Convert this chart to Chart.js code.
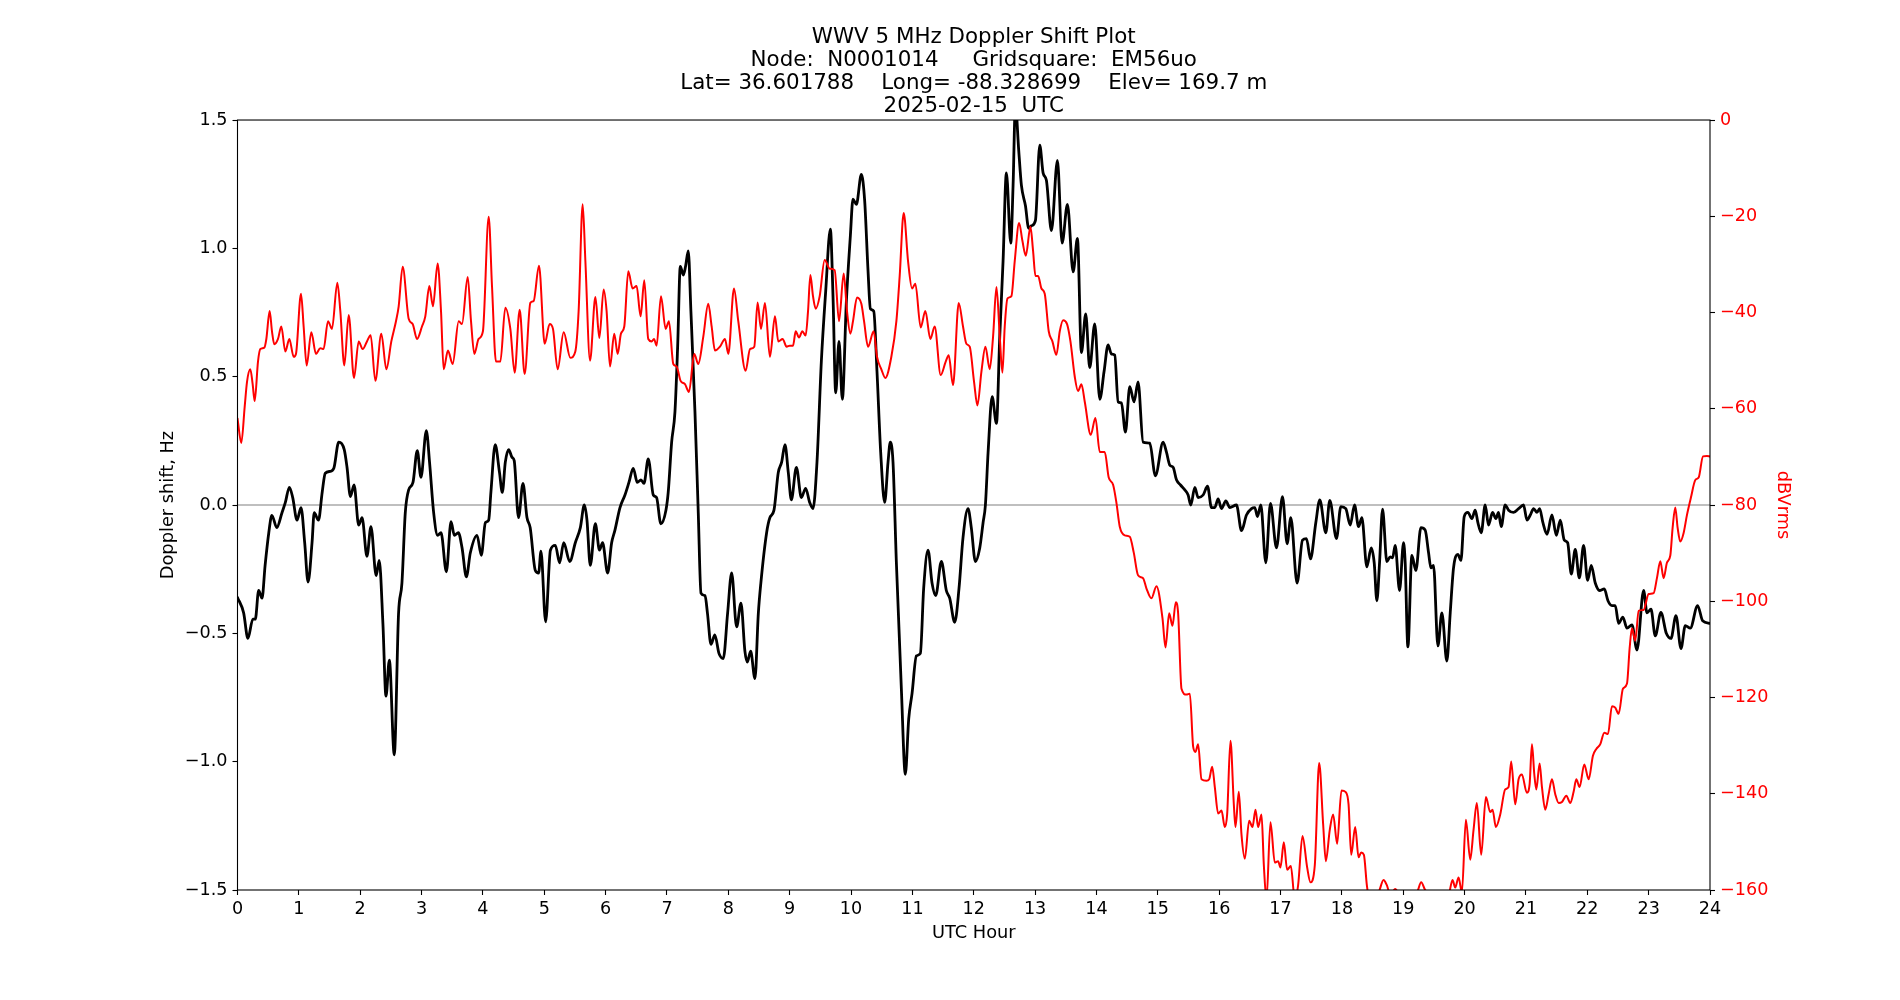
<!DOCTYPE html>
<html>
<head>
<meta charset="utf-8">
<title>WWV 5 MHz Doppler Shift Plot</title>
<script src="https://cdn.jsdelivr.net/npm/chart.js@4.4.1/dist/chart.umd.min.js"></script>
<style>
  html, body { margin: 0; padding: 0; background: #fff; }
  #chart { display: block; }
</style>
</head>
<body>
<canvas id="chart" width="1900" height="1000"></canvas>
<script>
var titleLines = [
  'WWV 5 MHz Doppler Shift Plot',
  'Node:  N0001014     Gridsquare:  EM56uo',
  'Lat= 36.601788    Long= -88.328699    Elev= 169.7 m',
  '2025-02-15  UTC'
];

var hourTicks = [0, 1, 2, 3, 4, 5, 6, 7, 8, 9, 10, 11, 12, 13, 14, 15, 16, 17, 18, 19, 20, 21, 22, 23, 24];
var dopplerTicks = [-1.5, -1.0, -0.5, 0.0, 0.5, 1.0, 1.5];
var powerTicks = [-160, -140, -120, -100, -80, -60, -40, -20, 0];

// zero reference line
var zeroHours = [0, 24];
var zeroHz = [0, 0];

// Doppler shift (Hz), black trace
var dopplerHours = [
  0.00, 0.10, 0.17, 0.25, 0.29, 0.345, 0.40, 0.45, 0.51, 0.56, 0.64, 0.725, 0.78, 0.845, 0.90, 0.97,
  1.035, 1.095, 1.15, 1.215, 1.25, 1.32, 1.38, 1.43, 1.51, 1.57, 1.65, 1.74, 1.785, 1.84, 1.90, 1.975,
  2.03, 2.11, 2.175, 2.26, 2.31, 2.37, 2.42, 2.475, 2.555, 2.625, 2.68, 2.735, 2.79, 2.86, 2.93, 2.99,
  3.078, 3.13, 3.197, 3.262, 3.317, 3.404, 3.48, 3.534, 3.60, 3.66, 3.73, 3.795, 3.904, 3.974,
  4.04, 4.094, 4.13, 4.20, 4.27, 4.316, 4.365, 4.42, 4.474, 4.51, 4.58, 4.653, 4.718, 4.77, 4.854, 4.908, 4.946,
  5.022, 5.10, 5.18, 5.25, 5.317, 5.415, 5.506, 5.588, 5.653, 5.696, 5.75, 5.832, 5.90, 5.95,
  6.033, 6.098, 6.152, 6.234, 6.315, 6.38, 6.45, 6.516, 6.576, 6.625, 6.695, 6.777, 6.83, 6.90, 6.983,
  7.02, 7.076, 7.13, 7.174, 7.217, 7.266, 7.304, 7.347, 7.39, 7.456, 7.51, 7.554, 7.62, 7.66, 7.717, 7.78, 7.847, 7.918, 7.988,
  8.054, 8.135, 8.206, 8.27, 8.31, 8.363, 8.434, 8.489, 8.53, 8.624, 8.678, 8.744, 8.814, 8.869, 8.923, 8.977,
  9.027, 9.109, 9.19, 9.26, 9.326, 9.38, 9.445, 9.516, 9.587, 9.663, 9.706, 9.75, 9.804, 9.858, 9.924, 9.989,
  10.032, 10.087, 10.168, 10.222, 10.277, 10.315, 10.37, 10.423, 10.483, 10.548, 10.603, 10.64, 10.684, 10.739, 10.82, 10.885, 10.94, 10.994,
  11.065, 11.13, 11.184, 11.255, 11.32, 11.38, 11.472, 11.553, 11.608, 11.69, 11.76, 11.825, 11.907, 11.96,
  12.027, 12.098, 12.152, 12.19, 12.234, 12.30, 12.37, 12.424, 12.478, 12.532, 12.603, 12.641, 12.679, 12.733, 12.777, 12.842, 12.896, 12.94,
  13.005, 13.076, 13.13, 13.184, 13.266, 13.364, 13.44, 13.527, 13.62, 13.69, 13.755, 13.825, 13.89, 13.972,
  14.054, 14.124, 14.19, 14.244, 14.298, 14.353, 14.407, 14.472, 14.543, 14.613, 14.678, 14.76, 14.869, 14.96,
  15.087, 15.141, 15.196, 15.25, 15.304, 15.37, 15.44, 15.494, 15.538, 15.603, 15.657, 15.739, 15.81, 15.875, 15.929, 15.983,
  16.038, 16.108, 16.174, 16.282, 16.364, 16.445, 16.527, 16.581, 16.624, 16.679, 16.76, 16.836, 16.934,
  17.032, 17.108, 17.168, 17.27, 17.358, 17.423, 17.488, 17.575, 17.64, 17.738, 17.803, 17.912, 17.983,
  18.064, 18.136, 18.206, 18.272, 18.326, 18.407, 18.478, 18.527, 18.57, 18.614, 18.663, 18.733, 18.788, 18.826, 18.869, 18.94,
  19.005, 19.032, 19.076, 19.141, 19.206, 19.288, 19.358, 19.413, 19.451, 19.494, 19.565, 19.63, 19.711, 19.766, 19.82, 19.891, 19.94, 19.994,
  20.054, 20.119, 20.173, 20.217, 20.271, 20.336, 20.39, 20.456, 20.51, 20.553, 20.597, 20.662, 20.717, 20.798, 20.88, 20.961,
  21.017, 21.071, 21.125, 21.18, 21.223, 21.277, 21.343, 21.424, 21.495, 21.56, 21.625, 21.68, 21.739, 21.804, 21.87, 21.94,
  22.005, 22.065, 22.13, 22.20, 22.277, 22.337, 22.402, 22.456, 22.51, 22.58, 22.647, 22.728, 22.81, 22.918, 22.973,
  23.038, 23.108, 23.20, 23.288, 23.364, 23.445, 23.527, 23.597, 23.679, 23.798, 23.88, 24.00
];
var dopplerHz = [
  -0.36, -0.42, -0.52, -0.445, -0.445, -0.333, -0.363, -0.235, -0.108, -0.04, -0.088, -0.03, 0.01, 0.069, 0.029, -0.059,
  -0.01, -0.147, -0.30, -0.147, -0.03, -0.059, 0.049, 0.124, 0.131, 0.143, 0.245, 0.216, 0.147, 0.033, 0.078, -0.078,
  -0.049, -0.20, -0.084, -0.275, -0.216, -0.461, -0.745, -0.604, -0.973, -0.422, -0.304, -0.029, 0.059, 0.088, 0.212, 0.108,
  0.29, 0.167, -0.03, -0.118, -0.108, -0.26, -0.065, -0.118, -0.108, -0.167, -0.28, -0.186, -0.118, -0.196,
  -0.069, -0.059, 0.049, 0.235, 0.127, 0.049, 0.167, 0.216, 0.186, 0.173, -0.049, 0.084, -0.049, -0.088, -0.255, -0.265, -0.18,
  -0.455, -0.176, -0.157, -0.225, -0.147, -0.22, -0.147, -0.088, 0.0, -0.059, -0.235, -0.073, -0.176, -0.147,
  -0.265, -0.147, -0.098, -0.01, 0.039, 0.088, 0.143, 0.088, 0.098, 0.084, 0.18, 0.039, 0.029, -0.073, -0.02,
  0.049, 0.245, 0.363, 0.618, 0.93, 0.896, 0.931, 0.99, 0.755, 0.363, -0.03, -0.343, -0.353, -0.422, -0.543, -0.506, -0.578, -0.598, -0.422,
  -0.265, -0.475, -0.382, -0.569, -0.612, -0.569, -0.676, -0.422, -0.304, -0.108, -0.049, -0.02, 0.127, 0.167, 0.235, 0.127,
  0.02, 0.147, 0.029, 0.065, 0.01, -0.014, 0.167, 0.559, 0.833, 1.075, 0.814, 0.437, 0.637, 0.412, 0.794, 1.049,
  1.192, 1.171, 1.288, 1.186, 0.912, 0.765, 0.755, 0.52, 0.206, 0.01, 0.167, 0.245, 0.167, -0.225, -0.716, -1.049, -0.833, -0.735,
  -0.588, -0.578, -0.324, -0.176, -0.304, -0.353, -0.22, -0.333, -0.363, -0.457, -0.324, -0.127, -0.014, -0.088,
  -0.22, -0.167, -0.069, 0.0, 0.206, 0.422, 0.318, 0.657, 0.951, 1.294, 1.02, 1.245, 1.56, 1.382, 1.245, 1.167, 1.078, 1.088,
  1.108, 1.402, 1.294, 1.265, 1.069, 1.343, 1.02, 1.171, 0.908, 1.039, 0.594, 0.745, 0.535, 0.706,
  0.412, 0.52, 0.624, 0.588, 0.584, 0.402, 0.398, 0.284, 0.461, 0.402, 0.48, 0.245, 0.241, 0.114,
  0.245, 0.206, 0.155, 0.147, 0.098, 0.078, 0.059, 0.039, 0.0, 0.069, 0.029, 0.039, 0.073, -0.01, -0.01, 0.024,
  -0.014, 0.016, -0.01, 0.0, -0.10, -0.039, -0.014, -0.01, -0.045, 0.0, -0.225, 0.006, -0.167,
  0.033, -0.151, -0.049, -0.304, -0.137, -0.131, -0.21, -0.069, 0.02, -0.108, 0.018, -0.131, -0.006,
  -0.014, -0.078, 0.0, -0.084, -0.049, -0.241, -0.167, -0.225, -0.373, -0.225, -0.016, -0.22, -0.202, -0.206, -0.157, -0.333,
  -0.147, -0.225, -0.553, -0.196, -0.255, -0.088, -0.098, -0.186, -0.245, -0.235, -0.549, -0.42, -0.608, -0.42, -0.245, -0.192, -0.216, -0.045,
  -0.029, -0.053, -0.02, -0.069, -0.108, 0.0, -0.078, -0.029, -0.053, -0.029, -0.084, 0.0, -0.02, -0.029, -0.014, 0.0,
  -0.059, -0.039, -0.014, -0.029, -0.014, -0.069, -0.114, -0.039, -0.118, -0.059, -0.137, -0.147, -0.269, -0.173, -0.284, -0.157,
  -0.294, -0.235, -0.304, -0.333, -0.327, -0.373, -0.392, -0.392, -0.461, -0.437, -0.48, -0.467, -0.565, -0.333, -0.42,
  -0.406, -0.51, -0.418, -0.50, -0.52, -0.431, -0.559, -0.47, -0.48, -0.392, -0.451, -0.461
];

// signal level (dBVrms), red trace
var powerHours = [
  0.00, 0.062, 0.117, 0.155, 0.209, 0.247, 0.28, 0.334, 0.372, 0.437, 0.47, 0.524, 0.562, 0.60, 0.66, 0.714, 0.779, 0.845, 0.915, 0.953,
  1.035, 1.078, 1.127, 1.203, 1.279, 1.35, 1.403, 1.475, 1.54, 1.627, 1.676, 1.741, 1.812, 1.899, 1.975,
  2.04, 2.11, 2.17, 2.247, 2.344, 2.426, 2.507, 2.583, 2.627, 2.692, 2.79, 2.855, 2.926,
  3.007, 3.061, 3.127, 3.186, 3.262, 3.317, 3.36, 3.43, 3.507, 3.605, 3.659, 3.752, 3.806, 3.86, 3.93,
  4.00, 4.094, 4.148, 4.213, 4.284, 4.365, 4.447, 4.517, 4.599, 4.68, 4.773, 4.827, 4.914,
  5.007, 5.088, 5.142, 5.218, 5.316, 5.425, 5.506, 5.56, 5.626, 5.67, 5.746, 5.833, 5.898, 5.968,
  6.016, 6.071, 6.141, 6.196, 6.25, 6.304, 6.369, 6.44, 6.505, 6.57, 6.63, 6.695, 6.75, 6.788, 6.831, 6.902, 6.978,
  7.032, 7.103, 7.157, 7.222, 7.293, 7.358, 7.445, 7.51, 7.592, 7.673, 7.728, 7.782, 7.864, 7.945,
  8.00, 8.092, 8.162, 8.282, 8.353, 8.423, 8.477, 8.532, 8.597, 8.678, 8.76, 8.814, 8.885, 8.95,
  9.00, 9.054, 9.098, 9.152, 9.206, 9.26, 9.299, 9.337, 9.38, 9.424, 9.489, 9.57, 9.652, 9.733, 9.804, 9.88, 9.934, 9.989,
  10.032, 10.097, 10.168, 10.212, 10.277, 10.369, 10.423, 10.494, 10.559, 10.657, 10.739, 10.793, 10.858, 10.929, 10.994,
  11.048, 11.135, 11.211, 11.293, 11.363, 11.461, 11.543, 11.592, 11.662, 11.755, 11.825, 11.88, 11.934,
  12.005, 12.06, 12.125, 12.19, 12.26, 12.315, 12.37, 12.424, 12.467, 12.505, 12.549, 12.614, 12.668, 12.739, 12.793, 12.848, 12.924, 12.967,
  13.005, 13.049, 13.103, 13.157, 13.222, 13.282, 13.347, 13.402, 13.456, 13.521, 13.576, 13.646, 13.70, 13.755, 13.81, 13.907, 13.983,
  14.054, 14.135, 14.20, 14.271, 14.325, 14.38, 14.461, 14.543, 14.608, 14.678, 14.76, 14.814, 14.896, 14.978,
  15.076, 15.125, 15.185, 15.239, 15.293, 15.331, 15.386, 15.467, 15.522, 15.576, 15.614, 15.657, 15.712, 15.793, 15.837, 15.886, 15.929, 15.983,
  16.038, 16.092, 16.13, 16.184, 16.239, 16.266, 16.32, 16.364, 16.418, 16.489, 16.543, 16.592, 16.635, 16.69, 16.728, 16.771, 16.836, 16.907, 16.961, 16.999,
  17.054, 17.108, 17.168, 17.233, 17.287, 17.358, 17.434, 17.488, 17.559, 17.63, 17.695, 17.738, 17.803, 17.858, 17.923, 17.993,
  18.059, 18.109, 18.152, 18.217, 18.272, 18.315, 18.359, 18.407, 18.435, 18.516, 18.598, 18.679, 18.733, 18.788, 18.869, 18.951,
  19.087, 19.222, 19.293, 19.358, 19.467, 19.63, 19.739, 19.804, 19.847, 19.902, 19.956,
  20.021, 20.092, 20.146, 20.20, 20.271, 20.347, 20.418, 20.456, 20.51, 20.581, 20.662, 20.717, 20.76, 20.825, 20.88, 20.934,
  21.015, 21.06, 21.098, 21.136, 21.169, 21.223, 21.261, 21.315, 21.37, 21.424, 21.478, 21.533, 21.587, 21.658, 21.723, 21.777, 21.821, 21.875, 21.951,
  22.022, 22.092, 22.147, 22.212, 22.277, 22.337, 22.402, 22.456, 22.511, 22.581, 22.647, 22.69, 22.728, 22.782, 22.837, 22.918, 22.999,
  23.081, 23.135, 23.19, 23.244, 23.298, 23.353, 23.391, 23.434, 23.472, 23.516, 23.57, 23.624, 23.69, 23.761, 23.815, 23.886, 23.951, 24.00
];
var powerDb = [
  -62.0, -67.1, -59.6, -54.4, -51.8, -54.9, -58.4, -50.2, -47.6, -47.3, -45.5, -39.7, -43.9, -46.6, -45.5, -42.9, -48.1, -45.5, -49.2, -48.6,
  -36.1, -42.9, -51.0, -44.1, -48.6, -47.4, -47.6, -41.8, -43.4, -33.8, -39.7, -51.0, -40.5, -53.6, -46.0,
  -47.6, -46.0, -44.7, -54.2, -44.4, -51.8, -46.0, -41.8, -38.7, -30.5, -41.3, -42.4, -45.5,
  -42.9, -40.8, -34.5, -38.7, -29.8, -39.7, -51.8, -47.9, -50.7, -41.8, -42.4, -32.6, -41.8, -48.6, -45.5,
  -43.9, -20.1, -34.5, -50.2, -50.2, -39.0, -43.4, -52.5, -39.4, -52.8, -38.0, -37.6, -30.3,
  -46.5, -42.4, -43.4, -51.8, -44.1, -49.4, -48.1, -39.7, -17.5, -29.3, -50.0, -36.8, -45.3, -35.2,
  -39.7, -51.2, -44.4, -48.6, -44.4, -42.9, -31.4, -35.0, -34.5, -40.8, -33.3, -45.5, -46.0, -45.5, -46.9, -36.6, -43.4,
  -41.8, -50.7, -51.2, -54.2, -54.9, -56.5, -48.6, -50.7, -45.0, -38.2, -42.9, -47.9, -47.1, -45.5,
  -48.6, -35.0, -41.8, -52.1, -47.6, -47.1, -37.9, -43.4, -38.0, -49.2, -40.8, -46.0, -45.5, -47.1,
  -46.9, -46.9, -43.9, -45.2, -43.9, -44.8, -39.7, -32.2, -36.6, -39.2, -36.6, -29.1, -30.9, -31.2, -41.8, -31.9, -39.7, -44.4,
  -41.8, -36.9, -38.2, -41.8, -47.1, -43.9, -49.2, -51.8, -53.6, -49.2, -41.8, -32.4, -19.3, -29.3, -35.0,
  -34.0, -43.1, -39.7, -45.5, -42.9, -53.0, -50.2, -48.9, -55.1, -38.0, -42.9, -46.5, -47.1,
  -54.4, -59.3, -52.3, -47.1, -51.8, -45.0, -34.7, -45.0, -52.5, -42.9, -37.1, -36.6, -29.3, -21.4, -25.1, -28.2, -22.2, -27.2,
  -32.4, -32.4, -35.0, -36.1, -43.9, -46.0, -48.8, -43.9, -41.6, -42.4, -46.0, -53.3, -56.3, -54.9, -58.6, -65.4, -61.9,
  -69.0, -69.0, -74.3, -75.8, -79.5, -84.5, -86.3, -86.6, -89.9, -94.6, -95.2, -97.3, -99.4, -96.9,
  -103.5, -109.6, -102.5, -105.1, -100.2, -102.5, -118.2, -119.4, -119.2, -130.2, -131.3, -129.7, -137.0, -137.3, -137.0, -134.4, -138.6, -144.1,
  -143.5, -146.9, -144.3, -129.0, -142.2, -146.9, -139.6, -148.5, -153.5, -145.6, -146.9, -143.3, -146.9, -144.3, -154.8, -162.0, -145.9, -154.3, -154.0, -155.3,
  -150.1, -155.8, -155.0, -162.0, -159.0, -148.8, -155.3, -158.4, -154.8, -133.6, -146.4, -154.0, -147.5, -144.3, -150.4, -139.3,
  -139.6, -142.2, -152.7, -146.9, -153.2, -152.2, -152.7, -159.0, -161.0, -161.0, -160.5, -157.9, -159.0, -161.0, -159.8, -161.0,
  -161.0, -160.5, -158.4, -160.0, -161.0, -161.5, -161.0, -157.9, -159.5, -157.4, -160.5,
  -145.4, -153.7, -147.5, -141.9, -152.7, -140.7, -143.8, -143.3, -146.9, -144.3, -139.1, -138.6, -133.3, -142.2, -137.0, -136.0,
  -139.8, -138.0, -129.7, -135.9, -139.1, -133.7, -138.6, -143.3, -140.1, -137.0, -140.1, -141.9, -141.7, -140.4, -141.9, -139.6, -137.0, -138.6, -133.9,
  -137.0, -132.1, -130.7, -129.7, -127.3, -127.6, -121.8, -122.1, -123.4, -118.2, -117.1, -109.8, -105.6, -108.2, -102.0, -101.8, -98.5,
  -98.3, -95.2, -91.7, -95.2, -92.0, -90.5, -84.7, -80.5, -84.7, -87.6, -85.8, -82.1, -78.4, -74.8, -74.3, -69.9, -69.8, -69.9
];

var FONT = 'DejaVu Sans';
var tickFont = { family: FONT, size: 17.6 };
var labelFont = { family: FONT, size: 17.8 };

function pairs(xs, ys) {
  return xs.map(function (x, i) { return { x: x, y: ys[i] }; });
}

function useTicks(list) {
  return function (scale) {
    scale.ticks = list.map(function (v) { return { value: v }; });
  };
}

function withMinus(text) {
  return String(text).replace('-', '\u2212');
}

function tickGrid() {
  return {
    display: true,
    drawOnChartArea: false,
    drawTicks: true,
    tickLength: 5,
    tickWidth: 1.1,
    tickColor: '#000'
  };
}

// matplotlib style frame on top of the traces
var frame = {
  id: 'frame',
  afterDatasetsDraw: function (chart) {
    var a = chart.chartArea;
    var ctx = chart.ctx;
    ctx.save();
    ctx.strokeStyle = '#000';
    ctx.lineWidth = 1.1;
    ctx.strokeRect(a.left, a.top, a.right - a.left, a.bottom - a.top);
    ctx.restore();
  }
};

new Chart(document.getElementById('chart').getContext('2d'), {
  type: 'line',
  data: {
    datasets: [
      {
        label: 'dBVrms',
        data: pairs(powerHours, powerDb),
        yAxisID: 'y1',
        borderColor: '#ff0000',
        borderWidth: 2.0,
        pointRadius: 0,
        cubicInterpolationMode: 'monotone',
        borderJoinStyle: 'round',
        borderCapStyle: 'round',
        clip: 0,
        order: 1
      },
      {
        label: 'Doppler shift',
        data: pairs(dopplerHours, dopplerHz),
        yAxisID: 'y',
        borderColor: '#000000',
        borderWidth: 2.8,
        pointRadius: 0,
        cubicInterpolationMode: 'monotone',
        borderJoinStyle: 'round',
        borderCapStyle: 'round',
        clip: 0,
        order: 2
      },
      {
        label: 'zero',
        data: pairs(zeroHours, zeroHz),
        yAxisID: 'y',
        borderColor: '#808080',
        borderWidth: 1.2,
        pointRadius: 0,
        clip: 0,
        order: 3
      }
    ]
  },
  options: {
    responsive: false,
    animation: false,
    devicePixelRatio: 1,
    layout: { padding: { left: 150, right: 100, top: 0, bottom: 50 } },
    plugins: {
      legend: { display: false },
      tooltip: { enabled: false },
      title: {
        display: true,
        fullSize: false,
        text: titleLines,
        color: '#000',
        font: { family: FONT, size: 21.4, weight: 'normal', lineHeight: 1.075 },
        padding: { top: 26, bottom: 2 }
      }
    },
    scales: {
      x: {
        type: 'linear',
        position: 'bottom',
        min: 0,
        max: 24,
        afterBuildTicks: useTicks(hourTicks),
        afterFit: function (scale) { scale.height = 60; },
        grid: tickGrid(),
        border: { display: false },
        ticks: {
          font: tickFont,
          color: '#000',
          padding: 3.5,
          maxRotation: 0,
          autoSkip: false,
          callback: function (v) { return String(v); }
        },
        title: {
          display: true,
          text: 'UTC Hour',
          color: '#000',
          font: labelFont,
          padding: { top: 0, bottom: 6 }
        }
      },
      y: {
        type: 'linear',
        position: 'left',
        min: -1.5,
        max: 1.5,
        afterBuildTicks: useTicks(dopplerTicks),
        afterFit: function (scale) { scale.width = 87.5; },
        grid: tickGrid(),
        border: { display: false },
        ticks: {
          font: tickFont,
          color: '#000',
          padding: 5,
          callback: function (v) { return withMinus(v.toFixed(1)); }
        },
        title: {
          display: true,
          text: 'Doppler shift, Hz',
          color: '#000',
          font: labelFont,
          padding: { top: 8, bottom: 0 }
        }
      },
      y1: {
        type: 'linear',
        position: 'right',
        min: -160,
        max: 0,
        afterBuildTicks: useTicks(powerTicks),
        afterFit: function (scale) { scale.width = 90; },
        grid: tickGrid(),
        border: { display: false },
        ticks: {
          font: tickFont,
          color: '#ff0000',
          padding: 5,
          callback: function (v) { return withMinus(v); }
        },
        title: {
          display: true,
          text: 'dBVrms',
          color: '#ff0000',
          font: labelFont,
          padding: { top: 7, bottom: 0 }
        }
      }
    }
  },
  plugins: [frame]
});
</script>
</body>
</html>
